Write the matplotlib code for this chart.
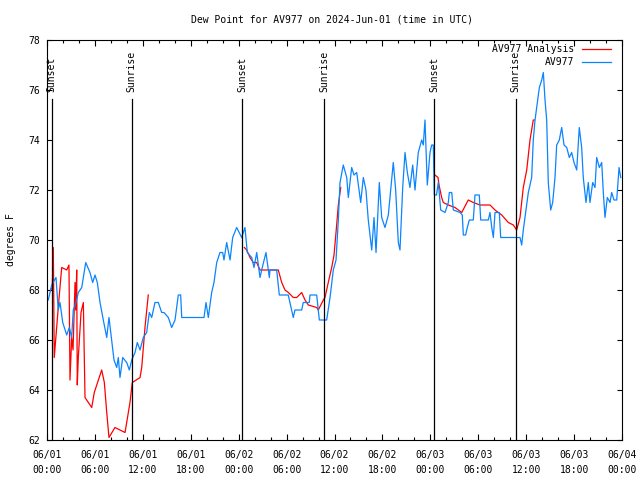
import numpy as np  # массивы
import pandas as pd  # время
import matplotlib
matplotlib.use('Agg')
import matplotlib.pyplot as plt  # графики
import matplotlib.dates as mdates

# Данные: часы от 2024-06-01 00:00 UTC и точка росы, F
start = '2024-06-01 00:00'

obs_hours = [0.16, 0.59, 1.13, 1.41, 1.63, 1.97, 2.47, 2.79, 3.09, 3.29, 3.63, 3.92, 4.35, 4.85,
             5.38, 5.72, 6.01, 6.30, 6.64, 7.05, 7.48, 7.76, 8.10, 8.39, 8.73, 8.93, 9.14, 9.48,
             9.98, 10.31, 10.61, 11.02, 11.31, 11.65, 12.06, 12.48, 12.81, 13.11, 13.52, 13.94,
             14.36, 14.65, 15.19, 15.61, 16.03, 16.44, 16.74, 16.87, 19.66, 19.91, 20.20, 20.62,
             20.91, 21.25, 21.66, 22.00, 22.16, 22.50, 22.92, 23.25, 23.75, 24.38, 24.79, 25.08,
             25.63, 25.92, 26.26, 26.67, 26.88, 27.42, 27.84, 27.92, 28.76, 29.09, 30.21, 30.84,
             31.05, 31.89, 32.09, 32.84, 32.93, 33.77, 33.97, 34.10, 35.02, 35.44, 35.85, 36.19,
             36.48, 36.69, 37.10, 37.53, 37.73, 38.15, 38.44, 38.78, 39.28, 39.61, 39.94, 40.23,
             40.66, 40.95, 41.20, 41.61, 41.91, 42.32, 42.74, 43.36, 43.66, 43.99, 44.20, 44.54,
             44.83, 45.12, 45.45, 45.79, 46.08, 46.49, 46.92, 47.12, 47.33, 47.62, 47.96, 48.17,
             48.37, 48.50, 48.77, 49.00, 49.30, 49.84, 50.25, 50.38, 50.68, 50.88, 51.72, 52.00,
             52.13, 52.42, 52.63, 52.88, 53.38, 53.59, 54.13, 54.31, 55.26, 55.47, 55.69, 55.89,
             56.10, 56.64, 56.81, 59.23, 59.44, 59.64, 59.98, 60.27, 60.69, 60.89, 61.11, 61.40,
             61.65, 61.95, 62.15, 62.36, 62.57, 62.77, 63.07, 63.32, 63.61, 63.82, 64.15, 64.45,
             64.74, 65.08, 65.40, 65.70, 65.99, 66.33, 66.65, 66.95, 67.15, 67.49, 67.78, 67.99,
             68.33, 68.62, 68.83, 69.16, 69.46, 69.66, 69.87, 70.16, 70.50, 70.71, 71.00, 71.34,
             71.63, 71.84]
obs_dewpt = [67.6, 68.2, 68.5, 67.2, 67.5, 66.7, 66.2, 66.5, 66.1, 67.2, 67.5, 67.9, 68.1, 69.1,
             68.7, 68.3, 68.6, 68.3, 67.5, 66.8, 66.1, 66.9, 66.0, 65.2, 64.9, 65.3, 64.5, 65.3,
             65.1, 64.8, 65.2, 65.5, 65.9, 65.6, 66.1, 66.3, 67.1, 66.9, 67.5, 67.5,
             67.1, 67.1, 66.9, 66.5, 66.8, 67.8, 67.8, 66.9, 66.9, 67.5, 66.9, 67.9,
             68.3, 69.1, 69.5, 69.5, 69.2, 69.9, 69.2, 70.1, 70.5, 70.1, 70.5, 69.5,
             69.3, 68.9, 69.5, 68.5, 68.8, 69.5, 68.5, 68.8, 68.8, 67.8, 67.8, 66.9,
             67.2, 67.2, 67.5, 67.5, 67.8, 67.8, 67.2, 66.8, 66.8, 67.7, 68.8, 69.2,
             70.8, 72.3, 73.0, 72.5, 71.7, 72.9, 72.6, 72.7, 71.5, 72.5, 72.0, 70.8,
             69.6, 70.9, 69.5, 72.3, 70.9, 70.5, 71.0, 73.1, 72.0, 69.9, 69.6, 72.1,
             73.5, 72.7, 72.1, 73.0, 72.0, 73.5, 74.0, 73.8, 74.8, 72.2, 73.5, 73.8,
             73.8, 71.8, 71.8, 72.3, 71.2, 71.1, 71.5, 71.9, 71.9, 71.2, 71.1, 71.0,
             70.2, 70.2, 70.5, 70.8, 70.8, 71.8, 71.8, 70.8, 70.8, 71.1, 70.5, 70.1,
             71.1, 71.1, 70.1, 70.1, 69.8, 70.4, 71.2, 71.9, 72.5, 74.0, 74.8, 75.5,
             76.1, 76.4, 76.7, 75.6, 74.8, 72.3, 71.2, 71.5, 72.5, 73.8, 74.0, 74.5,
             73.8, 73.7, 73.3, 73.5, 73.1, 72.8, 74.5, 73.7, 72.5, 71.5, 72.3, 71.5,
             72.3, 72.1, 73.3, 72.9, 73.1, 71.9, 70.9, 71.7, 71.5, 71.9, 71.6, 71.6,
             72.9, 72.5]

# Анализ: три отдельных куска
ana_hours_1 = [0.44, 0.66, 0.79, 0.91, 1.21, 1.41, 1.84, 2.47, 2.75, 2.88, 3.09, 3.26, 3.51,
               3.59, 3.72, 3.79, 3.92, 4.26, 4.55, 4.76, 5.60, 5.92, 6.64, 6.85, 7.18, 7.48,
               7.76, 8.51, 9.77, 9.98, 10.39, 10.68, 11.65, 11.86, 12.27, 12.68]
ana_dewpt_1 = [68.0, 68.1, 69.7, 65.3, 66.5, 67.3, 68.9, 68.8, 69.0, 64.4, 66.1, 65.6, 68.3,
               67.2, 68.8, 64.2, 65.3, 67.1, 67.5, 63.7, 63.3, 63.9, 64.6, 64.8, 64.3, 63.1,
               62.1, 62.5, 62.3, 62.7, 63.5, 64.3, 64.5, 64.9, 66.5, 67.8]
ana_hours_2 = [24.71, 25.01, 25.42, 25.83, 26.26, 26.67, 27.42, 28.96, 29.39, 29.80, 30.22,
               30.84, 31.27, 31.89, 32.31, 32.72, 33.77, 33.97, 34.60, 34.81, 35.22, 35.65,
               35.94, 36.19, 36.48, 36.78]
ana_dewpt_2 = [69.7, 69.6, 69.3, 69.1, 69.1, 68.8, 68.8, 68.8, 68.3, 68.0, 67.9,
               67.7, 67.7, 67.9, 67.6, 67.4, 67.3, 67.2, 67.6, 67.7, 68.3, 68.9,
               69.4, 70.3, 71.4, 72.1]
ana_hours_3 = [48.58, 48.96, 49.09, 49.42, 49.62, 50.25, 51.09, 51.93, 52.75, 53.38, 54.22,
               55.47, 56.10, 56.94, 57.76, 58.39, 58.81, 59.23, 59.64, 60.07, 60.48, 60.89, 61.02]
ana_dewpt_3 = [72.6, 72.5, 72.2, 71.7, 71.5, 71.4, 71.3, 71.1, 71.6, 71.5, 71.4,
               71.4, 71.2, 71.0, 70.7, 70.6, 70.4, 70.9, 72.1, 72.8, 74.0, 74.8, 74.8]

# Восход/закат
sun_hours = [0.59, 10.6, 24.46, 34.73, 48.5, 58.69]
sun_labels = ['Sunset', 'Sunrise', 'Sunset', 'Sunrise', 'Sunset', 'Sunrise']


def to_time(hours):
    return pd.Timestamp(start) + pd.to_timedelta(np.array(hours), unit='h')


plt.rcParams['font.family'] = 'DejaVu Sans Mono'
plt.rcParams['font.size'] = 7

fig = plt.figure(figsize=(6.4, 4.8), dpi=100)
ax = fig.add_axes([47 / 640, 40 / 480, 575 / 640, 400 / 480])

red = '#ff0000'
blue = '#0a84ff'
ax.plot(to_time(ana_hours_1), ana_dewpt_1, color=red, lw=0.9, label='AV977 Analysis')
ax.plot(to_time(ana_hours_2), ana_dewpt_2, color=red, lw=0.9)
ax.plot(to_time(ana_hours_3), ana_dewpt_3, color=red, lw=0.9)
ax.plot(to_time(obs_hours), obs_dewpt, color=blue, lw=0.9, label='AV977')

# вертикальные линии заката/восхода
for h, lab in zip(sun_hours, sun_labels):
    t = to_time([h])[0]
    ax.plot([t, t], [62, 75.64], color='black', lw=0.9)
    ax.text(t, 75.92, lab, rotation=90, ha='center', va='bottom', fontsize=7)

ax.set_xlim(to_time([0])[0], to_time([72])[0])
ax.set_ylim(62, 78)
ax.set_yticks(np.arange(62, 79, 2))
ax.xaxis.set_major_locator(mdates.HourLocator(byhour=[0, 6, 12, 18]))
ax.xaxis.set_minor_locator(mdates.HourLocator(interval=2))
ax.xaxis.set_major_formatter(mdates.DateFormatter('%m/%d\n%H:%M'))
ax.tick_params(axis='x', which='major', direction='in', length=4.5, width=0.8,
               top=True, pad=7)
ax.tick_params(axis='x', which='minor', direction='in', length=2.5, width=0.8, top=True)
ax.tick_params(axis='y', direction='in', length=3.5, width=0.8, right=True, pad=5)
for lab in ax.get_xticklabels():
    lab.set_linespacing(1.6)
for s in ax.spines.values():
    s.set_linewidth(0.8)

ax.set_ylabel('degrees F', labelpad=9)
fig.text(332 / 640, 1 - 19 / 480, 'Dew Point for AV977 on 2024-Jun-01 (time in UTC)',
         ha='center', va='center', fontsize=7)

ax.legend(loc='upper right', bbox_to_anchor=(0.98, 0.99), frameon=False, markerfirst=False,
          handlelength=2.9, handletextpad=0.8, labelspacing=0.3, borderpad=0,
          borderaxespad=0, fontsize=7)

fig.savefig('out.png', dpi=100)
